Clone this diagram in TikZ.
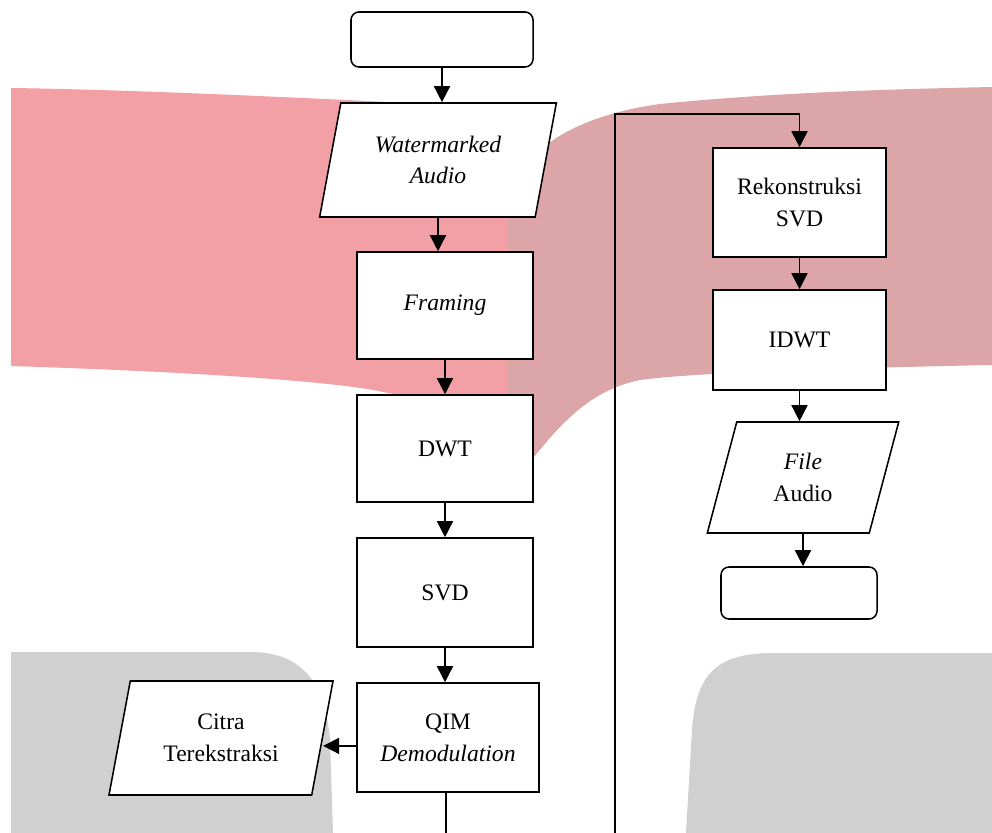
\documentclass[tikz,border=0pt]{standalone}
\usepackage{fontspec}
\setmainfont{Liberation Serif}
\usepackage{tikz}
\usetikzlibrary{positioning,arrows.meta,calc,shapes.geometric}
\definecolor{wmpink}{RGB}{242,160,165}
\definecolor{wmmauve}{RGB}{220,165,168}
\definecolor{wmgray}{RGB}{208,208,208}
\tikzset{
  txt/.style={font=\fontsize{16.8}{22.5}\selectfont,align=center,line width=1.1pt},
  term/.style={txt,draw,fill=white,rounded corners=0.2cm},
  proc/.style={txt,draw,fill=white,minimum width=4.4cm,minimum height=2.7cm},
  io/.style={txt,draw,fill=white,trapezium,trapezium left angle=76,trapezium right angle=104,
    trapezium stretches=true,inner xsep=2pt},
  arr/.style={-{Triangle[length=4mm,width=4mm]},line width=1.1pt},
  ln/.style={line width=1.3pt},
}

\begin{document}
\begin{tikzpicture}[x=0.025cm,y=-0.025cm]
  \useasboundingbox (0,0) rectangle (992,833);
  % background shapes
  \fill[wmpink] (11,88) .. controls (150,90) and (350,100) .. (508,108) -- (508,450)
    .. controls (470,420) and (430,400) .. (383,392)
    .. controls (340,382) and (200,372) .. (11,366) -- cycle;
  \fill[wmmauve] (508,205) .. controls (515,160) and (560,118) .. (660,104)
    .. controls (780,92) and (900,89) .. (992,87) -- (992,365)
    .. controls (850,368) and (700,372) .. (640,380)
    .. controls (590,390) and (560,425) .. (534,457) -- (508,480) -- cycle;
  \fill[wmgray] (11,833) -- (11,652) -- (250,652) .. controls (300,652) and (325,680) .. (330,740)
    -- (333,833) -- cycle;
  \fill[wmgray] (686,833) -- (692,730) .. controls (696,670) and (720,653) .. (775,653)
    -- (992,653) -- (992,833) -- cycle;

  % left column
  \node[term,minimum width=4.55cm,minimum height=1.375cm] (start) at (442,39.5) {};
  \node[io,minimum width=5.925cm,minimum height=2.85cm] (wm) at (438,160) {\textit{Watermarked}\\\textit{Audio}};
  \node[proc,minimum height=2.675cm] (framing) at (445,305.5) {\textit{Framing}};
  \node[proc,minimum height=2.675cm] (dwt) at (445,448.5) {DWT};
  \node[proc,minimum height=2.725cm] (svd) at (445,592.5) {SVD};
  \node[proc,minimum width=4.55cm,minimum height=2.725cm] (qim) at (448,737.5) {QIM\\\textit{Demodulation}};
  \node[io,minimum width=5.6cm,minimum height=2.85cm] (citra) at (221,738) {Citra\\Terekstraksi};

  % right column
  \node[proc,minimum width=4.325cm,minimum height=2.725cm] (rekon) at (799.5,202.5) {Rekonstruksi\\SVD};
  \node[proc,minimum width=4.325cm,minimum height=2.5cm] (idwt) at (799.5,340) {IDWT};
  \node[io,minimum width=4.8cm,minimum height=2.775cm] (file) at (803,477.5) {\textit{File}\\Audio};
  \node[term,minimum width=3.9cm,minimum height=1.3cm] (stop) at (799,593) {};

  \foreach \a/\b in {start/wm,wm/framing,framing/dwt,dwt/svd,svd/qim,rekon/idwt,idwt/file,file/stop}
    \draw[arr] (\a.center |- \a.south) -- (\a.center |- \b.north);
  \draw[arr] ([yshift=-0.21cm]qim.west) -- ([yshift=-0.21cm]qim.west -| citra.east);

  % page connectors
  \coordinate (pageA) at (446,833);
  \coordinate (pageB) at (615,833);
  \coordinate (bendB) at (615,114);
  \draw[ln] (pageA |- qim.south) -- (pageA);
  \draw[arr,line width=1.3pt] (pageB) -- (bendB) -| (rekon.north);
\end{tikzpicture}
\end{document}
